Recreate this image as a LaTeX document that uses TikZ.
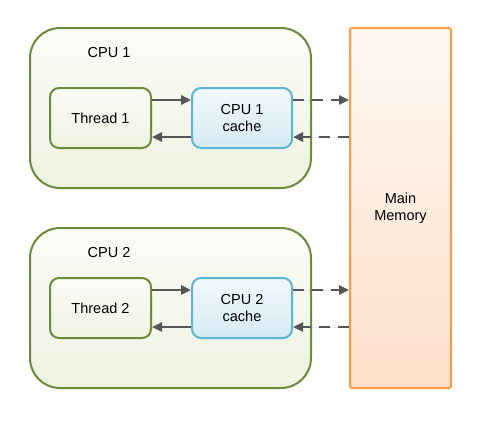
\documentclass[tikz,border=0pt]{standalone}
\usepackage{fontspec}
\setmainfont{Liberation Sans}
\usepackage{tikz}
\usetikzlibrary{arrows.meta,positioning}
\usepackage{xcolor}
\definecolor{cpuedge}{HTML}{6E8B3D}
\definecolor{cputop}{HTML}{FBFCF7}
\definecolor{cpubot}{HTML}{EEF2E1}
\definecolor{cacheedge}{HTML}{5BB5D3}
\definecolor{cachetop}{HTML}{F1F8FC}
\definecolor{cachebot}{HTML}{D6EAF3}
\definecolor{memedge}{HTML}{F99A45}
\definecolor{memtop}{HTML}{FFF8F2}
\definecolor{membot}{HTML}{FCDFCA}
\definecolor{linkgray}{HTML}{555555}

\begin{document}
\begin{tikzpicture}[x=1pt, y=-1pt, >={Triangle[length=10pt,width=9pt]},
    font=\fontsize{14.5}{17}\selectfont,
    cpubox/.style={draw=cpuedge, line width=2pt, rounded corners=30pt, top color=cputop, bottom color=cpubot, minimum width=281pt, minimum height=160pt},
    threadbox/.style={draw=cpuedge, line width=2pt, rounded corners=9pt, top color=cputop, bottom color=cpubot, minimum width=101pt, minimum height=60pt},
    cachebox/.style={draw=cacheedge, line width=2pt, rounded corners=9pt, top color=cachetop, bottom color=cachebot, minimum width=100pt, minimum height=60pt, align=center},
    membox/.style={draw=memedge, line width=2pt, rounded corners=1.5pt, top color=memtop, bottom color=membot, minimum width=101pt, minimum height=360pt, align=center},
    link/.style={->, draw=linkgray, fill=linkgray, line width=2.4pt},
    buslink/.style={link, dash pattern=on 11pt off 8pt}]
    \useasboundingbox (0,0) rectangle (502,423);
    % Main memory
    \node[membox] (mem) at (400.5,208) {Main\\Memory};
    % CPUs with thread and cache
    \foreach \i/\y/\d in {1/28/90, 2/228/80} {
        \node[cpubox] (cpu\i) at (170.5,\y+80) {};
        \node (lbl\i) at (109,\y+25) {CPU \i};
        \node[threadbox] (thread\i) at (100.5,\y+\d) {Thread \i};
        \node[cachebox, right=39pt of thread\i] (cache\i) {CPU \i\\cache};
        \draw[link] ([yshift=18pt]thread\i.east) -- ([yshift=18pt]cache\i.west);
        \draw[link] ([yshift=-19pt]cache\i.west) -- ([yshift=-19pt]thread\i.east);
        \draw[buslink] ([yshift=18pt]cache\i.east) -- ([yshift=18pt]cache\i.east -| mem.west);
        \draw[buslink] ([yshift=-19pt]cache\i.east -| mem.west) -- ([yshift=-19pt]cache\i.east);
    }
\end{tikzpicture}
\end{document}
